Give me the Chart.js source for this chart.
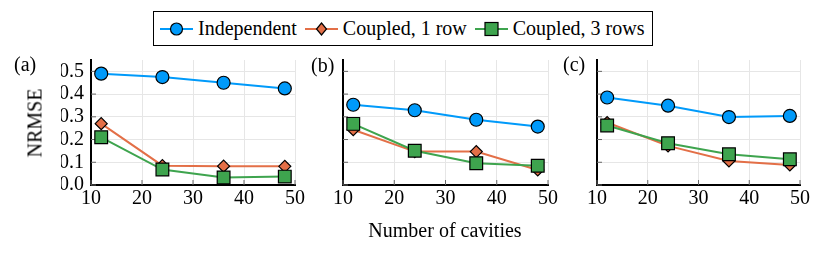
<!DOCTYPE html>
<html>
<head>
<meta charset="utf-8">
<script src="https://cdn.jsdelivr.net/npm/chart.js@4"></script>
<style>
  body { margin: 0; background: #fff; font-family: "Liberation Serif", serif; }
  #wrap { position: relative; width: 830px; height: 256px; overflow: hidden; }
  canvas { position: absolute; left: 0; top: 0; }
  .txt { position: absolute; font-size: 20px; color: #000; white-space: nowrap; }
  #legend {
    position: absolute; left: 153px; top: 11px; width: 500px; height: 35px;
    box-sizing: border-box; border: 1.5px solid #000; background: #fff;
    display: flex; align-items: center; padding-left: 6px; font-size: 20px;
    white-space: nowrap;
  }
  #legend svg { margin-right: 5px; flex-shrink: 0; }
  #legend span { margin-right: 8px; flex-shrink: 0; }
</style>
</head>
<body>
<div id="wrap">
  <canvas id="pa" width="830" height="256"></canvas>
  <canvas id="pb" width="830" height="256"></canvas>
  <canvas id="pc" width="830" height="256"></canvas>

  <div id="legend">
    <svg width="33" height="20"><line x1="0" y1="10" x2="33" y2="10" stroke="#009AFA" stroke-width="2"/><circle cx="16.5" cy="10" r="6" fill="#009AFA" stroke="#000" stroke-width="1.2"/></svg><span>Independent</span>
    <svg width="33" height="20"><line x1="0" y1="10" x2="33" y2="10" stroke="#E36F47" stroke-width="2"/><polygon points="16.5,4 21.5,10 16.5,16 11.5,10" fill="#E36F47" stroke="#000" stroke-width="1.2"/></svg><span>Coupled, 1 row</span>
    <svg width="33" height="20"><line x1="0" y1="10" x2="33" y2="10" stroke="#3EA44E" stroke-width="2"/><rect x="10" y="3.5" width="13" height="13" fill="#3EA44E" stroke="#000" stroke-width="1.2"/></svg><span>Coupled, 3 rows</span>
  </div>

  <div class="txt" style="left:14px; top:53px;">(a)</div>
  <div class="txt" style="left:311px; top:54px;">(b)</div>
  <div class="txt" style="left:563px; top:53px;">(c)</div>
  <div class="txt" style="left:35px; top:123px; transform: translate(-50%,-50%) rotate(-90deg);">NRMSE</div>
  <div class="txt" style="left:445px; top:230px; transform: translate(-50%,-50%);">Number of cavities</div>
</div>

<script>
// number of cavities (x)
let cavities = [12, 24, 36, 48];
let xTicks = [10, 20, 30, 40, 50];
let yTicks = [0, 0.1, 0.2, 0.3, 0.4, 0.5];

// panel (a)
let indepA = [0.49, 0.475, 0.45, 0.425];
let coup1A = [0.27, 0.085, 0.083, 0.082];
let coup3A = [0.21, 0.068, 0.033, 0.037];

// panel (b)
let indepB = [0.353, 0.329, 0.287, 0.257];
let coup1B = [0.243, 0.147, 0.147, 0.066];
let coup3B = [0.269, 0.151, 0.096, 0.085];

// panel (c)
let indepC = [0.385, 0.349, 0.299, 0.304];
let coup1C = [0.275, 0.172, 0.106, 0.088];
let coup3C = [0.262, 0.184, 0.135, 0.113];

const BLUE = "#009AFA";
const ORANGE = "#E36F47";
const GREEN = "#3EA44E";
const FONT = { family: "'Liberation Serif', serif", size: 20 };

// short tick marks pointing into the plot, like the original
const innerTicks = {
  id: "innerTicks",
  beforeDatasetsDraw(chart) {
    const ctx = chart.ctx;
    const area = chart.chartArea;
    ctx.save();
    ctx.strokeStyle = "#666";
    ctx.lineWidth = 1;
    ctx.beginPath();
    for (let v of yTicks) {
      let y = chart.scales.y.getPixelForValue(v);
      ctx.moveTo(area.left, y);
      ctx.lineTo(area.left + 5, y);
    }
    for (let v of xTicks) {
      let x = chart.scales.x.getPixelForValue(v);
      ctx.moveTo(x, area.bottom);
      ctx.lineTo(x, area.bottom - 5);
    }
    ctx.stroke();
    ctx.restore();
  },
};

function pts(vals) {
  return vals.map((v, i) => ({ x: cavities[i], y: v }));
}

function series(vals, color, style, radius, order) {
  return {
    data: pts(vals),
    borderColor: color,
    backgroundColor: color,
    borderWidth: 2,
    pointStyle: style,
    pointRadius: radius,
    pointBorderColor: "#000",
    pointBorderWidth: 1.2,
    pointBackgroundColor: color,
    order: order,
  };
}

function makePanel(id, indep, coup1, coup3, left, right, showY) {
  new Chart(document.getElementById(id), {
    type: "line",
    data: {
      datasets: [
        series(indep, BLUE, "circle", 6.5, 2),
        series(coup1, ORANGE, "rectRot", 6, 1),
        series(coup3, GREEN, "rect", 9, 0),
      ],
    },
    plugins: [innerTicks],
    options: {
      responsive: false,
      animation: false,
      events: [],
      layout: {
        padding: { left: showY ? left - 30 : left, right: 830 - right, top: 60, bottom: 41 },
      },
      plugins: { legend: { display: false }, tooltip: { enabled: false } },
      scales: {
        x: {
          type: "linear",
          min: 10,
          max: 50,
          afterBuildTicks: (s) => { s.ticks = xTicks.map((v) => ({ value: v })); },
          afterFit: (s) => { s.height = 30; },
          ticks: { color: "#000", font: FONT, padding: 2, maxRotation: 0, autoSkip: false },
          grid: { color: "#e6e6e6", drawTicks: false },
          border: { display: true, color: "#000", width: 2 },
        },
        y: {
          min: 0,
          max: 0.55,
          afterBuildTicks: (s) => { s.ticks = yTicks.map((v) => ({ value: v })); },
          afterFit: (s) => { s.width = showY ? 30 : 0; },
          ticks: {
            display: showY,
            autoSkip: false,
            color: "#000",
            font: FONT,
            padding: 7,
            callback: (v) => Number(v).toFixed(1),
          },
          grid: { color: "#e6e6e6", drawTicks: false },
          border: { display: true, color: "#000", width: 2 },
        },
      },
    },
  });
}

makePanel("pa", indepA, coup1A, coup3A, 91, 295, true);
makePanel("pb", indepB, coup1B, coup3B, 343, 548, false);
makePanel("pc", indepC, coup1C, coup3C, 597, 800, false);
</script>
</body>
</html>
